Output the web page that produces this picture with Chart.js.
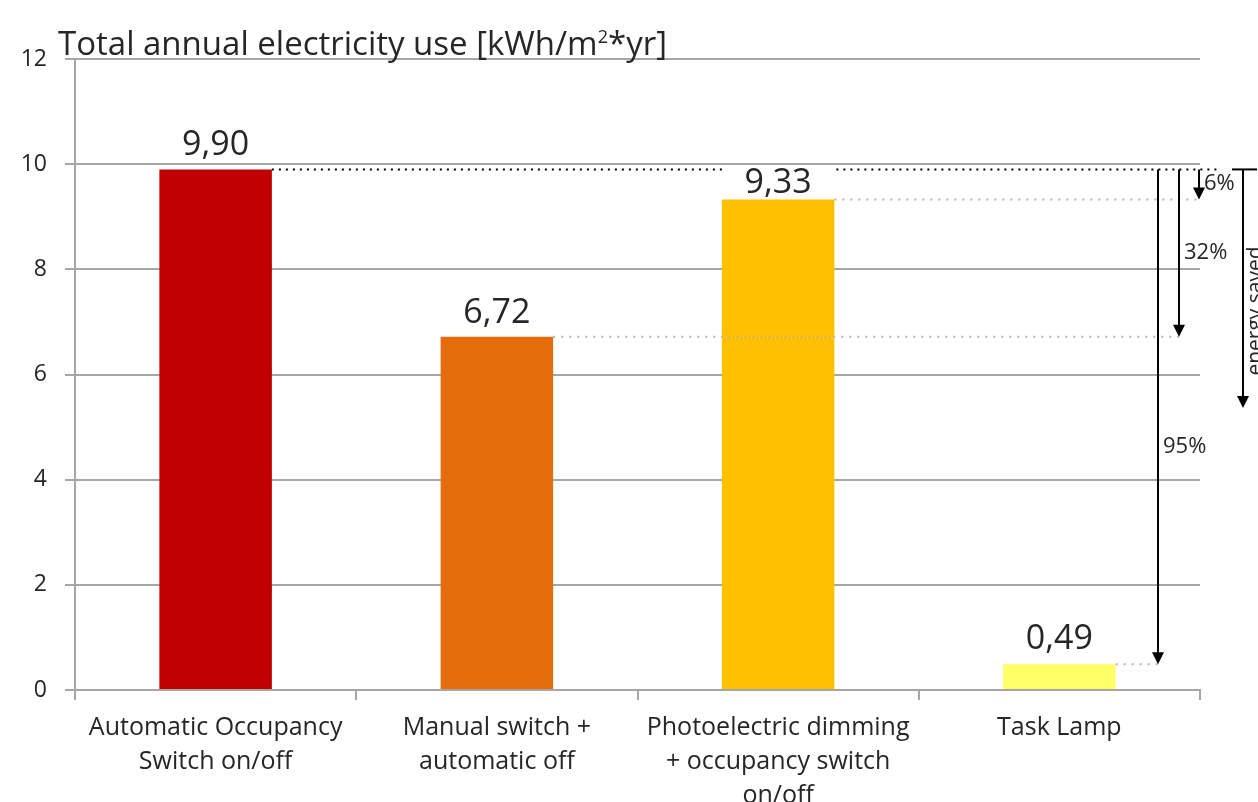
<!DOCTYPE html>
<html>
<head>
<meta charset="utf-8">
<script src="https://cdn.jsdelivr.net/npm/chart.js@4"></script>
<style>
  html, body { margin: 0; padding: 0; background: #fff; }
  #wrap { width: 1258px; height: 802px; position: relative; }
</style>
</head>
<body>
<div id="wrap"><canvas id="useChart"></canvas></div>
<script>
const categories = [
  ["Automatic Occupancy", "Switch on/off"],
  ["Manual switch +", "automatic off"],
  ["Photoelectric dimming", "+ occupancy switch", "on/off"],
  ["Task Lamp"]
];
const usage = [9.90, 6.72, 9.33, 0.49];
const barColors = ["#C00000", "#E46C0A", "#FFC000", "#FFFF66"];
const yTicks = [0, 2, 4, 6, 8, 10, 12];

const FONT = "'Open Sans', sans-serif";
const INK = "#262626";
const GRID = "#A6A6A6";

const fmt = v => v.toFixed(2).replace(".", ",");

// value labels above the bars (the third one sits lower, under the dotted line)
const labelLift = [14, 14, 6, 15];
const valueLabels = {
  id: "valueLabels",
  afterDatasetsDraw(chart) {
    const ctx = chart.ctx;
    const bars = chart.getDatasetMeta(0).data;
    ctx.save();
    ctx.font = "34px " + FONT;
    ctx.fillStyle = INK;
    ctx.textAlign = "center";
    ctx.textBaseline = "alphabetic";
    bars.forEach((b, i) => ctx.fillText(fmt(usage[i]), b.x, b.y - labelLift[i]));
    ctx.restore();
  }
};

// savings arrows measured from the first bar
const savings = {
  id: "savings",
  afterDatasetsDraw(chart) {
    const ctx = chart.ctx;
    const y = chart.scales.y;
    const bars = chart.getDatasetMeta(0).data;
    const base = usage[0];
    const yBase = y.getPixelForValue(base);
    const arrowX = [null, 1179, 1199, 1158];
    const labelFrac = [0, 0.5, 0.48, 0.56];

    ctx.save();
    // black dotted reference line at the first bar's height
    ctx.strokeStyle = "#000";
    ctx.lineWidth = 2;
    ctx.setLineDash([2, 5]);
    const gapL = bars[2].x - bars[2].width / 2, gapR = bars[2].x + bars[2].width / 2;
    ctx.beginPath();
    ctx.moveTo(bars[0].x + bars[0].width / 2, yBase);
    ctx.lineTo(gapL, yBase);
    ctx.moveTo(gapR + 2, yBase);
    ctx.lineTo(1218, yBase);
    ctx.stroke();

    // grey dotted lines from the other bars to their arrows
    ctx.strokeStyle = "#B4B4B4";
    ctx.setLineDash([2, 6]);
    for (let i = 1; i < usage.length; i++) {
      const yy = y.getPixelForValue(usage[i]);
      ctx.beginPath();
      ctx.moveTo(bars[i].x + bars[i].width / 2, yy);
      ctx.lineTo(arrowX[i] + 2, yy);
      ctx.stroke();
    }
    ctx.setLineDash([]);

    const arrow = (x, y0, y1) => {
      ctx.strokeStyle = "#000";
      ctx.fillStyle = "#000";
      ctx.lineWidth = 2;
      ctx.beginPath();
      ctx.moveTo(x, y0);
      ctx.lineTo(x, y1 - 10);
      ctx.stroke();
      ctx.beginPath();
      ctx.moveTo(x - 6, y1 - 12);
      ctx.lineTo(x + 6, y1 - 12);
      ctx.lineTo(x, y1);
      ctx.closePath();
      ctx.fill();
    };

    ctx.font = "22px " + FONT;
    ctx.textAlign = "left";
    ctx.textBaseline = "middle";
    for (let i = 1; i < usage.length; i++) {
      const yy = y.getPixelForValue(usage[i]);
      arrow(arrowX[i], yBase, yy);
      const pct = Math.round((1 - usage[i] / base) * 100) + "%";
      ctx.fillStyle = INK;
      ctx.fillText(pct, arrowX[i] + 5, yBase + (yy - yBase) * labelFrac[i]);
    }

    // "energy saved" key arrow
    ctx.lineWidth = 2;
    ctx.beginPath();
    ctx.moveTo(1232, yBase);
    ctx.lineTo(1257, yBase);
    ctx.stroke();
    arrow(1243, yBase, 408);
    ctx.save();
    ctx.translate(1262, 311);
    ctx.rotate(-Math.PI / 2);
    ctx.font = "21px " + FONT;
    ctx.fillStyle = INK;
    ctx.textAlign = "center";
    ctx.textBaseline = "alphabetic";
    ctx.fillText("energy saved", 0, 0);
    ctx.restore();
    ctx.restore();
  }
};

// axis title across the top of the plot
const axisTitle = {
  id: "axisTitle",
  afterDraw(chart) {
    const ctx = chart.ctx;
    ctx.save();
    ctx.fillStyle = INK;
    ctx.textBaseline = "alphabetic";
    ctx.textAlign = "left";
    let x = 58;
    const parts = [["Total annual electricity use [kWh/m", 33, 0], ["2", 18, -12], ["*yr]", 33, 0]];
    parts.forEach(([t, size, dy]) => {
      ctx.font = size + "px " + FONT;
      ctx.fillText(t, x, 55 + dy);
      x += ctx.measureText(t).width;
    });
    ctx.restore();
  }
};

new Chart(useChart, {
  type: "bar",
  data: {
    labels: categories,
    datasets: [{
      data: usage,
      backgroundColor: barColors,
      categoryPercentage: 1,
      barPercentage: 0.4
    }]
  },
  options: {
    responsive: true,
    maintainAspectRatio: false,
    animation: false,
    layout: { padding: { top: 59, right: 58, left: 0, bottom: 0 } },
    plugins: { legend: { display: false }, tooltip: { enabled: false } },
    scales: {
      x: {
        afterFit: s => { s.height = 112; },
        grid: { drawOnChartArea: false, color: GRID, lineWidth: 2, tickLength: 10, offset: true },
        border: { color: GRID, width: 2 },
        ticks: { color: INK, font: { family: FONT, size: 25, lineHeight: 1.36 }, padding: 11, maxRotation: 0, autoSkip: false }
      },
      y: {
        min: 0, max: 12,
        afterFit: s => { s.width = 75; },
        afterBuildTicks: s => { s.ticks = yTicks.map(v => ({ value: v })); },
        grid: { color: GRID, lineWidth: 2, tickLength: 10 },
        border: { color: GRID, width: 2 },
        ticks: { color: INK, font: { family: FONT, size: 23 }, padding: 18 }
      }
    }
  },
  plugins: [valueLabels, savings, axisTitle]
});
</script>
</body>
</html>
